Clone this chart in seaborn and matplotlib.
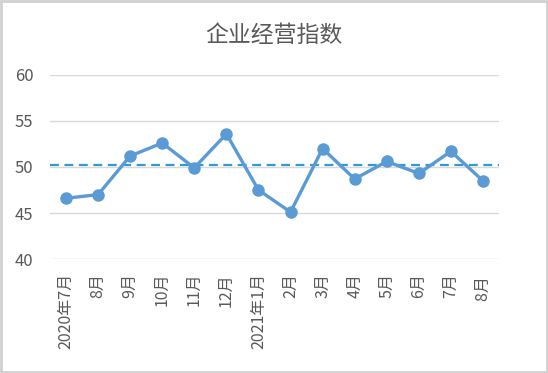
import matplotlib
matplotlib.use("Agg")
import matplotlib.pyplot as plt
import seaborn as sns
import pandas as pd

# 数据
months = ["2020年7月", "8月", "9月", "10月", "11月", "12月", "2021年1月",
          "2月", "3月", "4月", "5月", "6月", "7月", "8月 "]
values = [46.6, 47.0, 51.2, 52.6, 49.9, 53.6, 47.5,
          45.1, 52.0, 48.7, 50.6, 49.3, 51.7, 48.5]
ref_level = 50.2
title = "企业经营指数"

sns.set_theme(style="white")
plt.rcParams['font.family'] = ['Noto Sans CJK SC', 'DejaVu Sans']

df = pd.DataFrame({"month": months, "value": values})

fig = plt.figure(figsize=(5.48, 3.73), dpi=100)
ax = fig.add_axes([0.0912, 0.3056, 0.8194, 0.4934])

for y in [40, 45, 50, 55, 60]:
    ax.axhline(y, color="#d9d9d9", linewidth=1.0, zorder=0)

ax.axhline(ref_level, color="#2e9bd6", linestyle=(0, (4, 2.5)), linewidth=1.6, zorder=1)

sns.lineplot(data=df, x="month", y="value", sort=False, ax=ax,
             color="#5b9bd5", linewidth=2.4, marker="o", markersize=9,
             markeredgewidth=0, zorder=3)

ax.set_xlim(-0.5, len(months) - 0.5)
ax.set_ylim(40, 60)
ax.set_yticks([40, 45, 50, 55, 60])
ax.set_xticks(range(len(months)))
ax.set_xticklabels(months, rotation=90, va="top")
ax.tick_params(axis="x", labelsize=11.5, colors="#595959", length=0, pad=10)
ax.tick_params(axis="y", labelsize=12, colors="#595959", length=0, pad=12)
ax.set_xlabel("")
ax.set_ylabel("")
for s in ax.spines.values():
    s.set_visible(False)

fig.text(0.5, 0.905, title, ha="center", va="center", fontsize=16.5, color="#595959")

# 外框
fig.patches.append(plt.Rectangle((0.002, 0.003), 0.996, 0.994, transform=fig.transFigure,
                                 fill=False, edgecolor="#d0d0d0", linewidth=2))

plt.savefig("out.png", dpi=100)
